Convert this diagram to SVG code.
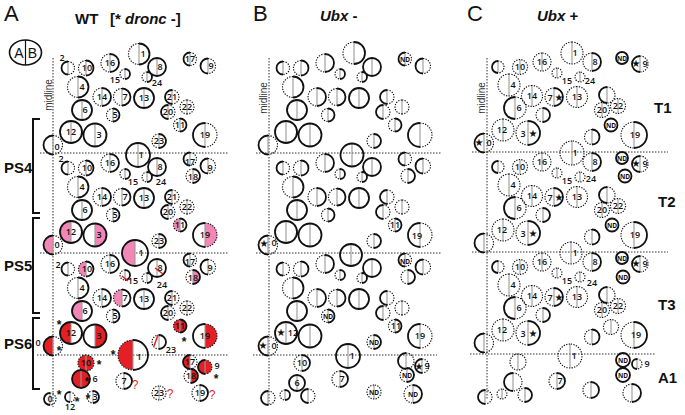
<svg xmlns="http://www.w3.org/2000/svg" width="685" height="415" viewBox="0 0 685 415">
<style>
.s{fill:none;stroke:#111;stroke-width:1.8}
.d{fill:none;stroke:#111;stroke-width:1.15;stroke-dasharray:1.3 1.3}
.g{fill:none;stroke:#999;stroke-width:1.1}
.ln{fill:none;stroke:#333;stroke-width:1;stroke-dasharray:1.5 1.5}
.br{fill:none;stroke:#111;stroke-width:2}
.pk{fill:#f287b7}
.rd{fill:#e41f26}
.rl{stroke:#e41f26;stroke-width:1.5;fill:none}
text{font-family:"Liberation Sans",Arial,sans-serif;fill:#111}
.n text,text.n{font-family:"Open Sans","Liberation Sans",sans-serif;font-size:9px;font-weight:600;text-anchor:middle}
.nd{font-size:6.5px!important;font-weight:700!important}
.st{font-family:"DejaVu Sans",sans-serif!important;font-size:10px!important;font-weight:400!important}
.ast{font-size:12px;font-weight:bold;text-anchor:middle}
.q{font-size:12px;fill:#e41f26;text-anchor:middle}
.big{font-size:22px}
.ttl{font-size:15px;font-weight:bold}
.ps{font-size:15px;font-weight:bold}
.ml{font-size:10px;text-anchor:middle;fill:#333}
</style>
<defs>
<g id="tplAB">
<path class="g" d="M68 61.5V74.5M86 60.5V75.5M110 54V72M157 58V76M190 52.5V65.5M208 58.5V73.5M125 69V79M147 72V82M78 76.5V97.5M102 88V106M122 88.5V105.5M144 88V108M172 90V104M187 100V114M82 100V120M113 108.5V121.5M168 105V119M180 118.5V131.5M71 121V143M95 123.5V146.5M205 123V147M159 134V148M53 135.5V154.5"/>
<path class="s" d="M68 61.5A6.5 6.5 0 0 0 68 74.5M86 60.5A7.5 7.5 0 0 1 86 75.5M110 54A9 9 0 0 1 110 72M157 58A9 9 0 0 0 157 76M157 58A9 9 0 0 1 157 76M190 52.5A6.5 6.5 0 0 0 190 65.5M208 58.5A7.5 7.5 0 0 0 208 73.5M125 69A5 5 0 0 1 125 79M147 72A5 5 0 0 1 147 82M78 76.5A10.5 10.5 0 0 1 78 97.5M102 88A9 9 0 0 1 102 106M122 88.5A8.5 8.5 0 0 1 122 105.5M144 88A10 10 0 0 0 144 108M144 88A10 10 0 0 1 144 108M172 90A7 7 0 0 0 172 104M82 100A10 10 0 0 0 82 120M82 100A10 10 0 0 1 82 120M113 108.5A6.5 6.5 0 0 1 113 121.5M168 105A7 7 0 0 0 168 119M180 118.5A6.5 6.5 0 0 1 180 131.5M71 121A11 11 0 0 0 71 143M71 121A11 11 0 0 1 71 143M95 123.5A11.5 11.5 0 0 0 95 146.5M95 123.5A11.5 11.5 0 0 1 95 146.5M205 123A12 12 0 0 0 205 147M159 134A7 7 0 0 1 159 148M53 135.5A9.5 9.5 0 0 0 53 154.5"/>
<path class="d" d="M68 61.5A6.5 6.5 0 0 1 68 74.5M86 60.5A7.5 7.5 0 0 0 86 75.5M110 54A9 9 0 0 0 110 72M190 52.5A6.5 6.5 0 0 1 190 65.5M208 58.5A7.5 7.5 0 0 1 208 73.5M125 69A5 5 0 0 0 125 79M147 72A5 5 0 0 0 147 82M78 76.5A10.5 10.5 0 0 0 78 97.5M102 88A9 9 0 0 0 102 106M122 88.5A8.5 8.5 0 0 0 122 105.5M172 90A7 7 0 0 1 172 104M187 100A7 7 0 0 0 187 114M187 100A7 7 0 0 1 187 114M113 108.5A6.5 6.5 0 0 0 113 121.5M168 105A7 7 0 0 1 168 119M180 118.5A6.5 6.5 0 0 0 180 131.5M205 123A12 12 0 0 1 205 147M159 134A7 7 0 0 0 159 148M53 135.5A9.5 9.5 0 0 1 53 154.5"/>
</g>
<g id="tplC">
<path class="g" d="M498 61V73M520 59.5V74.5M542 53V71M592 53V71M640 56V72M557 68V78M580 72V82M509 74V96M532 85.5V106.5M554 88V106M577 86.5V107.5M607 87V103M618 98.5V113.5M602 102.5V117.5M515 97V119M543 108V122M503 119V141M528 121V145M634 122V148M592 129.5V144.5M484 133.5V152.5"/>
<path class="s" d="M498 61A6 6 0 0 0 498 73M592 53A9 9 0 0 1 592 71M622 52A6 6 0 0 0 622 64A6 6 0 0 0 622 52M640 56A8 8 0 0 0 640 72M554 88A9 9 0 0 1 554 106M607 87A8 8 0 0 0 607 103M515 97A11 11 0 0 0 515 119M543 108A7 7 0 0 1 543 122M528 121A12 12 0 0 1 528 145M634 122A13 13 0 0 1 634 148M592 129.5A7.5 7.5 0 0 1 592 144.5M484 133.5A9.5 9.5 0 0 0 484 152.5"/>
<path class="d" d="M498 61A6 6 0 0 1 498 73M520 59.5A7.5 7.5 0 0 0 520 74.5A7.5 7.5 0 0 0 520 59.5M542 53A9 9 0 0 0 542 71A9 9 0 0 0 542 53M592 53A9 9 0 0 0 592 71M640 56A8 8 0 0 1 640 72M557 68A5 5 0 0 0 557 78A5 5 0 0 0 557 68M580 72A5 5 0 0 0 580 82A5 5 0 0 0 580 72M509 74A11 11 0 0 0 509 96A11 11 0 0 0 509 74M532 85.5A10.5 10.5 0 0 0 532 106.5A10.5 10.5 0 0 0 532 85.5M554 88A9 9 0 0 0 554 106M577 86.5A10.5 10.5 0 0 0 577 107.5A10.5 10.5 0 0 0 577 86.5M607 87A8 8 0 0 1 607 103M618 98.5A7.5 7.5 0 0 0 618 113.5A7.5 7.5 0 0 0 618 98.5M602 102.5A7.5 7.5 0 0 0 602 117.5A7.5 7.5 0 0 0 602 102.5M515 97A11 11 0 0 1 515 119M543 108A7 7 0 0 0 543 122M503 119A11 11 0 0 0 503 141A11 11 0 0 0 503 119M528 121A12 12 0 0 0 528 145M634 122A13 13 0 0 0 634 148M592 129.5A7.5 7.5 0 0 0 592 144.5M484 133.5A9.5 9.5 0 0 1 484 152.5"/>
</g>
</defs>
<rect width="685" height="415" fill="#fff"/>

<g id="guides">
<path class="ln" d="M53 58V407M40 153H229M40 253H229M37 355H229M269 58V405M256 153H441M256 253H441M253 355H437M487 58V400M472 152H668M472 252H668M470 354H655"/>
<text class="ml" transform="translate(51.5,95) rotate(-90)">midline</text>
<text class="ml" transform="translate(266.5,98) rotate(-90)">midline</text>
<text class="ml" transform="translate(484.5,98) rotate(-90)">midline</text>
</g>

<g id="titles">
<text class="big" x="4" y="21">A</text>
<text class="ttl" x="75" y="24">WT<tspan x="110">[* </tspan><tspan font-style="italic">dronc</tspan> -]</text>
<text class="big" x="253" y="21">B</text>
<text class="ttl" x="320" y="21" font-size="14"><tspan font-style="italic">Ubx</tspan> -</text>
<text class="big" x="467" y="21">C</text>
<text class="ttl" x="537" y="21" font-size="14"><tspan font-style="italic">Ubx</tspan> +</text>
</g>

<g id="legend">
<ellipse cx="25.5" cy="52.5" rx="16" ry="12.5" fill="none" stroke="#111" stroke-width="1.6"/>
<path d="M25.5 40V65" stroke="#111" stroke-width="1.2"/>
<text x="19" y="57.5" font-size="14" text-anchor="middle">A</text>
<text x="32.5" y="57.5" font-size="14" text-anchor="middle">B</text>
</g>

<g id="brackets">
<path class="br" d="M40 119H33V213H40M40 218H33V313H40M40 318H33V389H40"/>
<text class="ps" x="4" y="173">PS4</text>
<text class="ps" x="4" y="271">PS5</text>
<text class="ps" x="4" y="349">PS6</text>
</g>

<g id="panelA">
<g id="fillsA">
<path class="pk" d="M180 218.5A6.5 6.5 0 0 0 180 231.5ZM71 221A11 11 0 0 0 71 243ZM95 223.5A11.5 11.5 0 0 1 95 246.5ZM205 223A12 12 0 0 1 205 247ZM53 235.5A9.5 9.5 0 0 0 53 254.5ZM135 240A13 13 0 0 0 135 266ZM86 261.5A7.5 7.5 0 0 0 86 276.5ZM193 270A7 7 0 0 1 193 284ZM122 289.5A8.5 8.5 0 0 0 122 306.5ZM82 301A10 10 0 0 0 82 321Z"/>
<path class="rd" d="M71 322A11 11 0 0 0 71 344ZM95 324.5A11.5 11.5 0 0 1 95 347.5ZM205 324A12 12 0 0 1 205 348ZM53 336.5A9.5 9.5 0 0 0 53 355.5ZM133 340A15 15 0 0 0 133 370ZM190 355A7 7 0 0 0 190 369ZM191 369A7 7 0 0 1 191 383Z"/>
<circle class="rd" cx="180" cy="326" r="6.5"/>
<circle class="rd" cx="86" cy="363" r="8"/>
<circle class="rd" cx="205" cy="367" r="7"/>
<circle class="rd" cx="81" cy="379" r="9"/>
</g>
<use href="#tplAB"/>
<use href="#tplAB" transform="translate(0,100)"/>
<use href="#tplAB" transform="translate(0,201)"/>
<g id="extrasA">
<path class="g" d="M139 43.5V64.5M138 143V167M135 240V266M193 169V183M193 270V284M133 340V370M86 355V371M190 355V369M205 360V374M191 369V383M81 370V388M124 373V389M159 386V400M200 385V401M50 393V405M70 392V402M93 391V403"/>
<path class="s" d="M139 43.5A10.5 10.5 0 0 1 139 64.5M138 143A12 12 0 0 0 138 167A12 12 0 0 0 138 143M135 240A13 13 0 0 0 135 266A13 13 0 0 0 135 240M193 169A7 7 0 0 1 193 183M193 270A7 7 0 0 1 193 284M133 340A15 15 0 0 1 133 370M190 355A7 7 0 0 0 190 369M205 360A7 7 0 0 0 205 374M191 369A7 7 0 0 1 191 383M81 370A9 9 0 0 0 81 388A9 9 0 0 0 81 370M124 373A8 8 0 0 1 124 389M200 385A8 8 0 0 1 200 401M50 393A6 6 0 0 0 50 405M70 392A5 5 0 0 0 70 402M93 391A6 6 0 0 1 93 403"/>
<path class="d" d="M139 43.5A10.5 10.5 0 0 0 139 64.5M193 169A7 7 0 0 0 193 183M193 270A7 7 0 0 0 193 284M133 340A15 15 0 0 0 133 370M86 355A8 8 0 0 0 86 371A8 8 0 0 0 86 355M190 355A7 7 0 0 1 190 369M205 360A7 7 0 0 1 205 374M191 369A7 7 0 0 0 191 383M124 373A8 8 0 0 0 124 389M159 386A7 7 0 0 0 159 400A7 7 0 0 0 159 386M200 385A8 8 0 0 0 200 401M50 393A6 6 0 0 1 50 405M70 392A5 5 0 0 1 70 402M93 391A6 6 0 0 0 93 403"/>
<path class="rl" d="M155 268L163 274M122 276L128 281M70 325L67 339M158 335L154 346"/>
</g>
<g id="labelsA1" class="n">
<text x="62" y="61">2</text><text x="87" y="71">10</text><text x="110" y="66">16</text><text x="143" y="57">1</text><text x="160" y="70">8</text><text x="190" y="62">17</text><text x="211" y="69">9</text><text x="115" y="83">15</text><text x="157" y="86">24</text><text x="82" y="90">4</text><text x="102" y="100">14</text><text x="125" y="100">7</text><text x="144" y="101">13</text><text x="172" y="100">21</text><text x="187" y="110">22</text><text x="85" y="113">6</text><text x="115" y="118">5</text><text x="168" y="115">20</text><text x="180" y="128">11</text><text x="71" y="135">12</text><text x="99" y="138">3</text><text x="205" y="138">19</text><text x="159" y="144">23</text><text x="57" y="150">0</text>
</g>
<g id="labelsA2" class="n" transform="translate(0,100)">
<text x="61" y="62">2</text><text x="87" y="71">10</text><text x="110" y="66">16</text><text x="141" y="58">1</text><text x="160" y="70">8</text><text x="190" y="65">17</text><text x="210" y="71">9</text><text x="193" y="80">18</text><text x="133" y="85">15</text><text x="161" y="85">24</text><text x="82" y="90">4</text><text x="102" y="100">14</text><text x="125" y="100">7</text><text x="144" y="101">13</text><text x="172" y="100">21</text><text x="187" y="110">22</text><text x="85" y="113">6</text><text x="115" y="118">5</text><text x="168" y="115">20</text><text x="180" y="128">11</text><text x="71" y="135">12</text><text x="99" y="138">3</text><text x="205" y="138">19</text><text x="159" y="144">23</text><text x="57" y="148">0</text>
</g>
<g id="labelsA3" class="n" transform="translate(0,201)">
<text x="58" y="67">2</text><text x="87" y="71">10</text><text x="110" y="66">16</text><text x="141" y="55">1</text><text x="160" y="70">8</text><text x="190" y="64">17</text><text x="210" y="70">9</text><text x="193" y="80">18</text><text x="133" y="83">15</text><text x="162" y="87">24</text><text x="82" y="90">4</text><text x="102" y="100">14</text><text x="125" y="100">7</text><text x="144" y="101">13</text><text x="172" y="100">21</text><text x="187" y="110">22</text><text x="85" y="113">6</text><text x="115" y="118">5</text><text x="168" y="115">20</text><text x="180" y="128">11</text><text x="71" y="135">12</text><text x="99" y="138">3</text><text x="205" y="138">19</text><text x="171" y="152">23</text><text x="38" y="145">0</text>
</g>
<g id="labelsA4" class="n">
<text x="139" y="360">1</text><text x="86" y="366">10</text><text x="190" y="365">17</text><text x="217" y="369">9</text><text x="191" y="379">18</text><text x="95" y="382">6</text><text x="124" y="384">7</text><text x="159" y="396">23</text><text x="200" y="396">19</text><text x="50" y="402">0</text><text x="70" y="410">12</text><text x="95" y="400">3</text>
</g>
<g id="marksA">
<text class="ast" x="59" y="329">*</text><text class="ast" x="184" y="346">*</text><text class="ast" x="59" y="355">*</text><text class="ast" x="113" y="359">*</text><text class="ast" x="99" y="369">*</text><text class="ast" x="216" y="383">*</text><text class="ast" x="87" y="386">*</text><text class="ast" x="59" y="399">*</text><text class="ast" x="77" y="406">*</text><text class="ast" x="88" y="403">*</text>
<text class="q" x="135" y="389">?</text><text class="q" x="170" y="398">?</text><text class="q" x="212" y="399">?</text>
</g>
</g>

<g id="panelB">
<use href="#tplAB" transform="translate(215,0)"/>
<use href="#tplAB" transform="translate(215,100)"/>
<use href="#tplAB" transform="translate(215,201)"/>
<g id="extrasB">
<path class="g" d="M354 42V64M352 143.5V166.5M351 244V266M408 169V183M408 270V284M348 344V368M302 355V371M406 353V369M422 359V373M407 368V382M297 375V391M340 371V387M374 385V399M413 385V403M268 391V405M285 390V400M308 389V403"/>
<path class="s" d="M354 42A11 11 0 0 1 354 64M352 143.5A11.5 11.5 0 0 0 352 166.5A11.5 11.5 0 0 0 352 143.5M351 244A11 11 0 0 0 351 266A11 11 0 0 0 351 244M408 169A7 7 0 0 1 408 183M408 270A7 7 0 0 1 408 284M348 344A12 12 0 0 0 348 368A12 12 0 0 0 348 344M302 355A8 8 0 0 1 302 371M406 353A8 8 0 0 0 406 369M422 359A7 7 0 0 0 422 373M407 368A7 7 0 0 1 407 382M297 375A8 8 0 0 0 297 391A8 8 0 0 0 297 375M340 371A8 8 0 0 1 340 387M413 385A9 9 0 0 1 413 403M268 391A7 7 0 0 0 268 405M285 390A5 5 0 0 1 285 400M308 389A7 7 0 0 0 308 403"/>
<path class="d" d="M354 42A11 11 0 0 0 354 64M408 169A7 7 0 0 0 408 183M408 270A7 7 0 0 0 408 284M302 355A8 8 0 0 0 302 371M406 353A8 8 0 0 1 406 369M422 359A7 7 0 0 1 422 373M407 368A7 7 0 0 0 407 382M340 371A8 8 0 0 0 340 387M374 385A7 7 0 0 0 374 399A7 7 0 0 0 374 385M413 385A9 9 0 0 0 413 403M268 391A7 7 0 0 1 268 405M285 390A5 5 0 0 0 285 400M308 389A7 7 0 0 1 308 403"/>
</g>
<g id="labelsB" class="n">
<text class="nd" x="405" y="61.5">ND</text>
<text x="395" y="228">11</text><text x="417" y="239">19</text><text class="st" x="264" y="246.5">★</text><text x="274" y="246">0</text>
<text class="nd" x="405" y="263.5">ND</text><text class="nd" x="328" y="318.5">ND</text><text class="st" x="281" y="335.5">★</text><text x="293" y="336">12</text><text class="nd" x="374" y="344.5">ND</text><text x="396" y="329">11</text><text x="420" y="339">19</text><text class="st" x="263" y="348.5">★</text><text x="274" y="349">0</text>
<text x="352" y="359">1</text><text x="302" y="366">10</text><text class="st" x="419" y="369.5">★</text><text x="427" y="369">9</text><text class="nd" x="407" y="377.5">ND</text><text x="297" y="386">6</text><text x="342" y="382">7</text><text class="nd" x="374" y="394.5">ND</text><text class="nd" x="413" y="396.5">ND</text>
</g>
</g>

<g id="panelC">
<use href="#tplC"/>
<use href="#tplC" transform="translate(0,100)"/>
<use href="#tplC" transform="translate(0,200)"/>
<g id="extrasC">
<path class="g" d="M572 42V64M572 141V165M571 242V264M611 319.5V334.5M570 344V368M518 354V370M637 359V369M513 373V391M557 373V389M591 382V398M632 384V402M485 390V404M502 389V399M525 388V402"/>
<path class="d" d="M572 42A11 11 0 0 0 572 64A11 11 0 0 0 572 42M572 141A12 12 0 0 0 572 165A12 12 0 0 0 572 141M571 242A11 11 0 0 0 571 264A11 11 0 0 0 571 242M611 319.5A7.5 7.5 0 0 0 611 334.5A7.5 7.5 0 0 0 611 319.5M570 344A12 12 0 0 0 570 368A12 12 0 0 0 570 344M518 354A8 8 0 0 0 518 370A8 8 0 0 0 518 354M637 359A5 5 0 0 1 637 369M513 373A9 9 0 0 1 513 391M557 373A8 8 0 0 0 557 389M591 382A8 8 0 0 0 591 398M632 384A9 9 0 0 0 632 402M485 390A7 7 0 0 1 485 404M502 389A5 5 0 0 0 502 399A5 5 0 0 0 502 389M525 388A7 7 0 0 0 525 402"/>
<path class="s" d="M611 118.5A6.5 6.5 0 0 0 611 131.5A6.5 6.5 0 0 0 611 118.5M612 218.5A6.5 6.5 0 0 0 612 231.5A6.5 6.5 0 0 0 612 218.5M625 169.5A6.5 6.5 0 0 0 625 182.5A6.5 6.5 0 0 0 625 169.5M623 270.5A6.5 6.5 0 0 0 623 283.5A6.5 6.5 0 0 0 623 270.5M623 353A7 7 0 0 0 623 367A7 7 0 0 0 623 353M623 368A7 7 0 0 0 623 382A7 7 0 0 0 623 368M637 359A5 5 0 0 0 637 369M513 373A9 9 0 0 0 513 391M557 373A8 8 0 0 1 557 389M591 382A8 8 0 0 1 591 398M632 384A9 9 0 0 1 632 402M485 390A7 7 0 0 0 485 404M525 388A7 7 0 0 1 525 402"/>
</g>
<g id="labelsC1" class="n">
<text x="520" y="70">10</text><text x="542" y="65">16</text><text x="575" y="56">1</text><text x="595" y="65">8</text><text class="nd" x="622" y="60.5">ND</text><text class="st" x="636" y="66.5">★</text><text x="645" y="67">9</text><text x="567" y="84">15</text><text x="590" y="84">24</text><text x="513" y="88">4</text><text x="532" y="99">14</text><text x="550" y="101">7</text><text class="st" x="559" y="100.5">★</text><text x="577" y="100">13</text><text x="618" y="109">22</text><text x="602" y="113">20</text><text x="519" y="111">6</text><text class="nd" x="611" y="127.5">ND</text><text x="502" y="133">12</text><text x="523" y="137">3</text><text class="st" x="533" y="136.5">★</text><text x="635" y="138">19</text><text class="st" x="479" y="145.5">★</text><text x="489" y="146">0</text>
</g>
<g id="labelsC2" class="n" transform="translate(0,100)">
<text x="520" y="70">10</text><text x="542" y="65">16</text><text x="575" y="56">1</text><text x="595" y="65">8</text><text class="nd" x="622" y="60.5">ND</text><text class="st" x="636" y="66.5">★</text><text x="645" y="67">9</text><text class="nd" x="625" y="78.5">ND</text><text x="567" y="84">15</text><text x="591" y="82">24</text><text x="513" y="88">4</text><text x="532" y="99">14</text><text x="550" y="101">7</text><text class="st" x="559" y="100.5">★</text><text x="577" y="100">13</text><text x="618" y="109">22</text><text x="602" y="113">20</text><text x="519" y="111">6</text><text class="nd" x="612" y="127.5">ND</text><text x="502" y="133">12</text><text x="523" y="137">3</text><text class="st" x="533" y="136.5">★</text><text x="635" y="138">19</text>
</g>
<g id="labelsC3" class="n" transform="translate(0,200)">
<text x="520" y="70">10</text><text x="542" y="65">16</text><text x="575" y="56">1</text><text x="595" y="65">8</text><text class="nd" x="622" y="60.5">ND</text><text class="st" x="636" y="66.5">★</text><text x="645" y="67">9</text><text class="nd" x="623" y="79.5">ND</text><text x="567" y="84">15</text><text x="592" y="86">24</text><text x="513" y="88">4</text><text x="532" y="99">14</text><text x="550" y="101">7</text><text class="st" x="559" y="100.5">★</text><text x="577" y="100">13</text><text x="618" y="109">22</text><text x="602" y="113">20</text><text x="519" y="111">6</text><text x="502" y="133">12</text><text x="523" y="137">3</text><text class="st" x="533" y="136.5">★</text><text x="636" y="138">19</text>
</g>
<g id="labelsC4" class="n">
<text x="574" y="359">1</text><text class="nd" x="623" y="362.5">ND</text><text x="647" y="367">9</text><text class="nd" x="623" y="377.5">ND</text><text x="560" y="384">7</text>
</g>
<g id="segLabels">
<text class="ps" x="654" y="113">T1</text>
<text class="ps" x="658" y="207">T2</text>
<text class="ps" x="658" y="310">T3</text>
<text class="ps" x="658" y="383">A1</text>
</g>
</g>
</svg>
